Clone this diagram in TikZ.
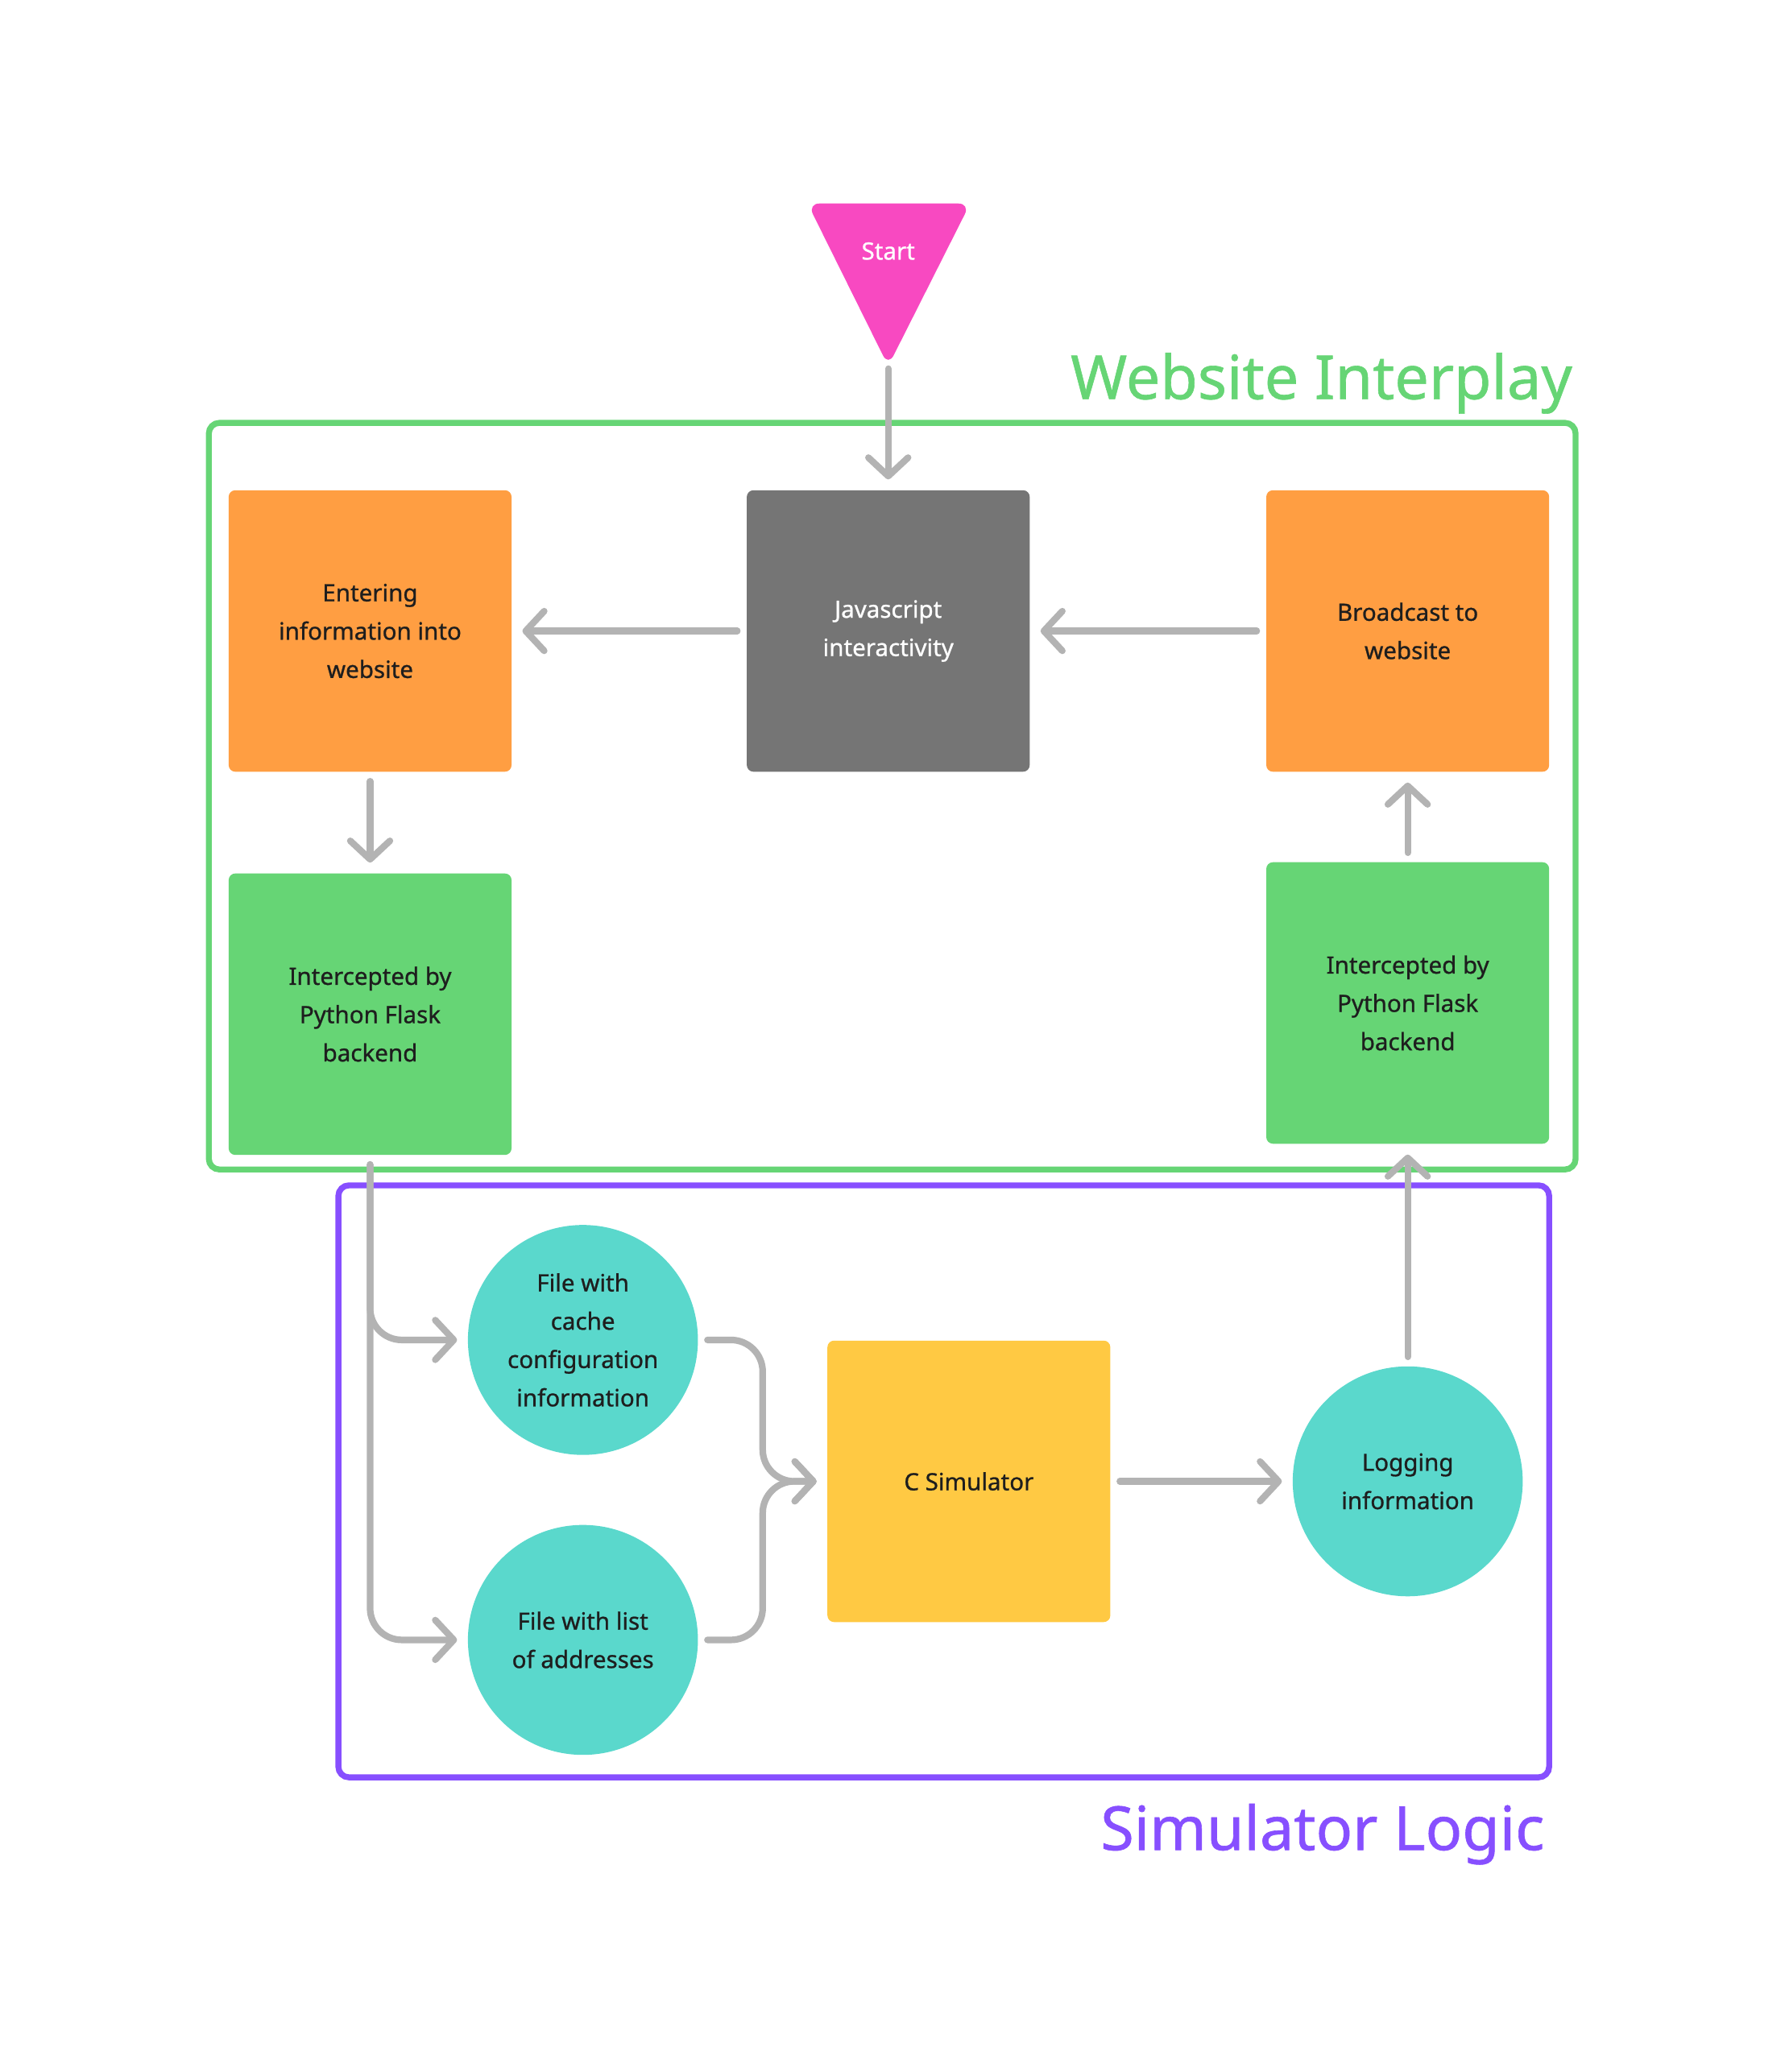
\documentclass[tikz,border=0pt]{standalone}
\usepackage{fontspec}
\setmainfont{Noto Sans}[RawFeature={embolden=0.8}]
\usetikzlibrary{arrows.meta,calc}

\definecolor{startpink}{HTML}{F849C1}
\definecolor{boxorange}{HTML}{FF9E42}
\definecolor{boxgray}{HTML}{757575}
\definecolor{boxgreen}{HTML}{66D575}
\definecolor{boxteal}{HTML}{5AD8CC}
\definecolor{boxyellow}{HTML}{FFC943}
\definecolor{framepurple}{HTML}{874FFF}
\definecolor{linkgray}{HTML}{B3B3B3}
\definecolor{textdark}{HTML}{1E1E1E}

\begin{document}
\begin{tikzpicture}[x=1pt, y=-1pt,
    font=\fontsize{18}{29}\selectfont,
    stepbox/.style={rectangle, rounded corners=5pt, minimum width=214pt, minimum height=213pt,
        inner sep=0pt, align=center, text=textdark},
    filenode/.style={circle, fill=boxteal, minimum size=174pt, inner sep=0pt, align=center, text=textdark},
    flow/.style={draw=linkgray, line width=5pt, line cap=round,
        -{Straight Barb[length=14pt, width=30pt, round]}, shorten <=7pt, shorten >=8pt},
    region/.style={rounded corners=8pt, line width=4.5pt},
    title/.style={font=\fontsize{46}{55}\selectfont, anchor=base east}]
        \useasboundingbox (0,0) rectangle (1350,1568);

        % Regions
        \draw[region, draw=boxgreen] (158,320) rectangle (1192,885);
        \draw[region, draw=framepurple] (256,897) rectangle (1172,1345);
        \node[title, text=boxgreen] (webtitle) at (1193,302) {Website Interplay};
        \node[title, text=framepurple] (simtitle) at (1172,1400) {Simulator Logic};

        % Start
        \fill[startpink, rounded corners=9pt] (672,154) -- (734,154) -- (672,277) -- (611,154) -- cycle;
        \node[text=white] (start) at (672,190) {Start};
        \coordinate (starttip) at (672,272);

        % Steps
        \node[stepbox, fill=boxorange] (enter) at (280,477.5) {Entering\\information into\\website};
        \node[stepbox, fill=boxgray, text=white] (js) at (672,477.5) {Javascript\\interactivity};
        \node[stepbox, fill=boxorange] (broad) at (1065,477.5) {Broadcast to\\website};
        \node[stepbox, fill=boxgreen] (flaskin) at (280,767.5) {Intercepted by\\Python Flask\\backend};
        \node[stepbox, fill=boxgreen] (flaskout) at (1065,759) {Intercepted by\\Python Flask\\backend};
        \node[stepbox, fill=boxyellow] (csim) at (733,1121) {C Simulator};
        \node[filenode] (cache) at (441,1014) {File with\\cache\\configuration\\information};
        \node[filenode] (addr) at (441,1241) {File with list\\of addresses};
        \node[filenode] (logging) at (1065,1121) {Logging\\information};

        % Connectors
        \draw[flow] (starttip) -- (js.north);
        \draw[flow] (js.west) -- (enter.east);
        \draw[flow] (broad.west) -- (js.east);
        \draw[flow] (enter.south) -- (flaskin.north);
        \draw[flow] (flaskout.north) -- (broad.south);
        \draw[flow] (logging.north) -- (flaskout.south);
        \draw[flow] (csim.east) -- (logging.west);
        \draw[flow, rounded corners=24pt] (flaskin.south) |- (cache.west);
        \draw[flow, rounded corners=24pt] (flaskin.south) |- (addr.west);
        \coordinate (merge) at ($(cache.east)!.5!(csim.west)$);
        \draw[flow, rounded corners=24pt] (cache.east) -| (merge |- csim.west) -- (csim.west);
        \draw[flow, rounded corners=24pt] (addr.east) -| (merge |- csim.west) -- (csim.west);
\end{tikzpicture}
\end{document}
